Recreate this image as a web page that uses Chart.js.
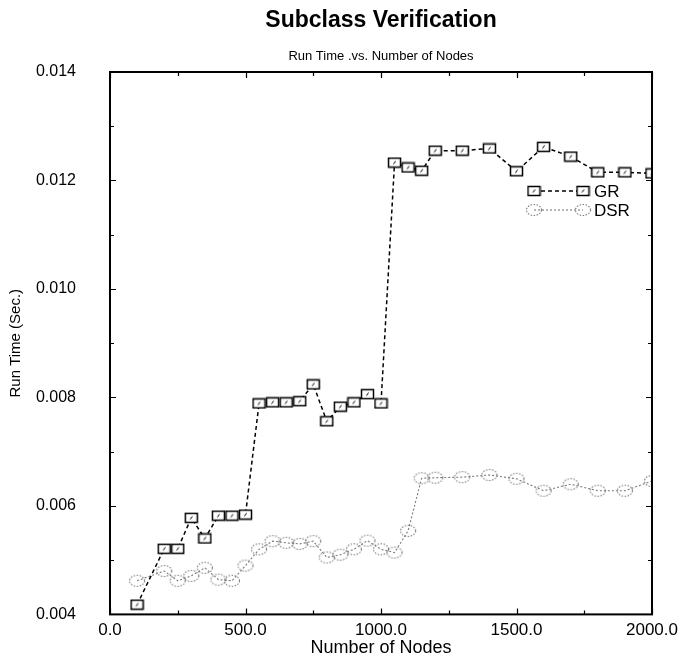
<!DOCTYPE html>
<html>
<head>
<meta charset="utf-8">
<script src="https://cdn.jsdelivr.net/npm/chart.js@4"></script>
<style>
html,body{margin:0;padding:0;background:#fff;}
#wrap{width:685px;height:658px;}
</style>
</head>
<body>
<div id="wrap"><canvas id="c" width="685" height="658"></canvas></div>
<script>
// ---- data ----
const nodes = [100,200,250,300,350,400,450,500,550,600,650,700,750,800,850,900,950,1000,1050,1100,1150,1200,1300,1400,1500,1600,1700,1800,1900,2000];
const grTimes = [0.00418,0.00521,0.00521,0.00578,0.00540,0.00582,0.00582,0.00584,0.00789,0.00791,0.00791,0.00793,0.00824,0.00756,0.00783,0.00791,0.00806,0.00789,0.01233,0.01224,0.01218,0.01255,0.01255,0.01259,0.01217,0.01262,0.01244,0.01215,0.01215,0.01213];
const dsrTimes = [0.00462,0.00480,0.00462,0.00471,0.00486,0.00464,0.00462,0.00490,0.00520,0.00535,0.00532,0.00530,0.00535,0.00505,0.00510,0.00520,0.00536,0.00520,0.00514,0.00554,0.00651,0.00652,0.00653,0.00657,0.00650,0.00628,0.00640,0.00628,0.00628,0.00646];
const seriesNames = ['GR','DSR'];
const titleText = 'Subclass Verification';
const subtitleText = 'Run Time .vs. Number of Nodes';
const xTickLabelsEvery = 500;
const yTickLabelsEvery = 0.002;

const FONT = "'Liberation Sans', Arial, Helvetica, sans-serif";

function makeSquare(){
  const c = document.createElement('canvas');
  c.width = 15; c.height = 12;
  const g = c.getContext('2d');
  g.fillStyle = '#fff';
  g.fillRect(1,1,13,10);
  g.strokeStyle = '#000';
  g.lineWidth = 1.5;
  g.strokeRect(1.5,1.5,12,9);
  g.lineWidth = 1;
  g.beginPath(); g.moveTo(6.5,7.5); g.lineTo(8.5,4.5); g.stroke();
  return c;
}
function makeEllipse(){
  const c = document.createElement('canvas');
  c.width = 18; c.height = 14;
  const g = c.getContext('2d');
  g.strokeStyle = '#7a7a7a';
  g.lineWidth = 1.1;
  g.setLineDash([1.5,1.5]);
  g.beginPath(); g.ellipse(9,7,7.5,5.5,0,0,Math.PI*2); g.stroke();
  return c;
}
const sqImg = makeSquare();
const elImg = makeEllipse();

const framePlugin = {
  id: 'frame',
  afterDraw(chart){
    const ctx = chart.ctx;
    const a = chart.chartArea;
    const xs = chart.scales.x, ys = chart.scales.y;
    ctx.save();
    // titles, centred over the plot area
    const cx = (a.left + a.right) / 2;
    ctx.fillStyle = '#000';
    ctx.textAlign = 'center';
    ctx.textBaseline = 'middle';
    ctx.font = 'bold 23px ' + FONT;
    ctx.fillText(titleText, cx, 21);
    ctx.font = '13px ' + FONT;
    ctx.fillText(subtitleText, cx, 56);

    ctx.strokeStyle = '#000';
    ctx.lineWidth = 2;
    ctx.strokeRect(a.left, a.top, a.right - a.left, a.bottom - a.top);
    ctx.lineWidth = 1.2;
    ctx.beginPath();
    for (let v = xs.min; v <= xs.max + 1e-9; v += 250){
      const px = Math.round(xs.getPixelForValue(v)) + 0.5;
      const len = (Math.abs(v % 500) < 1e-6) ? 6 : 4;
      ctx.moveTo(px, a.bottom); ctx.lineTo(px, a.bottom - len);
      ctx.moveTo(px, a.top); ctx.lineTo(px, a.top + len);
    }
    for (let i = 0; i <= 10; i++){
      const v = ys.min + i*0.001;
      const py = Math.round(ys.getPixelForValue(v)) + 0.5;
      const len = (i % 2 === 0) ? 6 : 4;
      ctx.moveTo(a.left, py); ctx.lineTo(a.left + len, py);
      ctx.moveTo(a.right, py); ctx.lineTo(a.right - len, py);
    }
    ctx.stroke();

    // legend (inside plot, upper right)
    const lx1 = a.left + 424, lx2 = a.left + 473, tx = a.left + 484;
    const rows = [
      {y: a.top + 119, ds: chart.data.datasets[0], img: sqImg},
      {y: a.top + 138, ds: chart.data.datasets[1], img: elImg}
    ];
    rows.forEach(r => {
      ctx.strokeStyle = r.ds.borderColor;
      ctx.lineWidth = r.ds.borderWidth;
      ctx.setLineDash(r.ds.borderDash);
      ctx.beginPath(); ctx.moveTo(lx1, r.y); ctx.lineTo(lx2, r.y); ctx.stroke();
      ctx.setLineDash([]);
      ctx.drawImage(r.img, lx1 - r.img.width/2, r.y - r.img.height/2);
      ctx.drawImage(r.img, lx2 - r.img.width/2, r.y - r.img.height/2);
      ctx.fillStyle = '#000';
      ctx.font = '17px ' + FONT;
      ctx.textBaseline = 'middle';
      ctx.textAlign = 'left';
      ctx.fillText(r.ds.label, tx, r.y + 1);
    });
    ctx.restore();
  }
};

Chart.defaults.color = '#000';
Chart.defaults.font.family = FONT;

new Chart(document.getElementById('c'), {
  type: 'line',
  data: {
    datasets: [
      {
        label: seriesNames[0],
        data: nodes.map((n,i) => ({x:n, y:grTimes[i]})),
        borderColor: '#000',
        borderWidth: 1.5,
        borderDash: [4,3],
        pointStyle: sqImg,
        tension: 0
      },
      {
        label: seriesNames[1],
        data: nodes.map((n,i) => ({x:n, y:dsrTimes[i]})),
        borderColor: '#7a7a7a',
        borderWidth: 1.1,
        borderDash: [2,2],
        pointStyle: elImg,
        tension: 0
      }
    ]
  },
  options: {
    responsive: false,
    animation: false,
    devicePixelRatio: 1,
    layout: {padding: {left: 0, right: 33, top: 72, bottom: 0}},
    plugins: {
      legend: {display: false},
      tooltip: {enabled: false},
      title: {display: false},
      subtitle: {display: false}
    },
    scales: {
      x: {
        type: 'linear',
        min: 0, max: 2000,
        grid: {display: false, drawTicks: false},
        border: {display: false},
        ticks: {
          stepSize: xTickLabelsEvery,
          padding: 6,
          font: {size: 17, family: FONT},
          maxRotation: 0,
          callback: v => Number(v).toFixed(1)
        },
        title: {
          display: true,
          text: 'Number of Nodes',
          font: {size: 18, family: FONT, lineHeight: 1},
          padding: {top: 0, bottom: -2}
        },
        afterFit: s => { s.height = 41; }
      },
      y: {
        type: 'linear',
        min: 0.004, max: 0.014,
        grid: {display: false, drawTicks: false},
        border: {display: false},
        ticks: {
          stepSize: yTickLabelsEvery,
          padding: 34,
          font: {size: 16, family: FONT},
          callback: v => Number(v).toFixed(3)
        },
        title: {
          display: true,
          text: 'Run Time (Sec.)',
          font: {size: 15, family: FONT},
          padding: {top: 6.5, bottom: 0}
        },
        afterFit: s => { s.width = 110; }
      }
    }
  },
  plugins: [framePlugin]
});
</script>
</body>
</html>
